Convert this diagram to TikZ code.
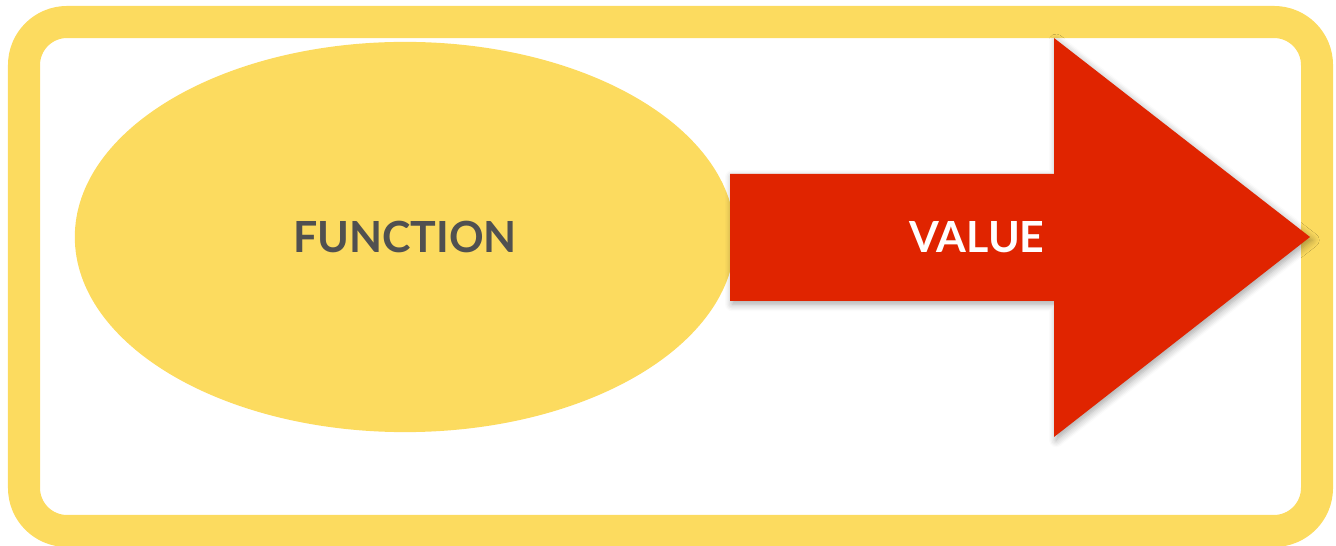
\documentclass[tikz,border=0pt]{standalone}
\usepackage{fontspec}
\setmainfont{Lato}
\usetikzlibrary{shapes.geometric,shadows.blur}
\definecolor{vang}{RGB}{252,219,95}
\definecolor{do}{RGB}{224,36,0}
\definecolor{xam}{RGB}{80,80,80}
\begin{document}
\begin{tikzpicture}[x=0.01cm,y=-0.01cm,line join=round]
	\tikzset{
	khung/.style={draw=vang,line width=0.32cm,rounded corners=0.43cm},
	chu/.style={font=\bfseries\fontsize{12.2}{14}\selectfont,inner sep=0pt},
	muiten/.style={fill=do,blur shadow={shadow xshift=0.6pt,shadow yshift=-0.9pt,shadow blur steps=6,shadow opacity=35}}
	}
	\useasboundingbox (0,0) rectangle (1336,546);
	\draw[khung] (24,22) rectangle (1317,531);%khung ngoài
	\node[ellipse,fill=vang,minimum width=6.6cm,minimum height=3.9cm,inner sep=0pt] (ham) at (405,237) {};
	\node[chu,text=xam] (fn) at (ham.center) {FUNCTION};
	%mũi tên
	\fill[muiten] (730,174)--(1054,174)--(1054,38)--(1310,237)--(1054,437)--(1054,301)--(730,301)--cycle;
	\node[chu,text=white] (val) at (977,237) {VALUE};
\end{tikzpicture}
\end{document}
